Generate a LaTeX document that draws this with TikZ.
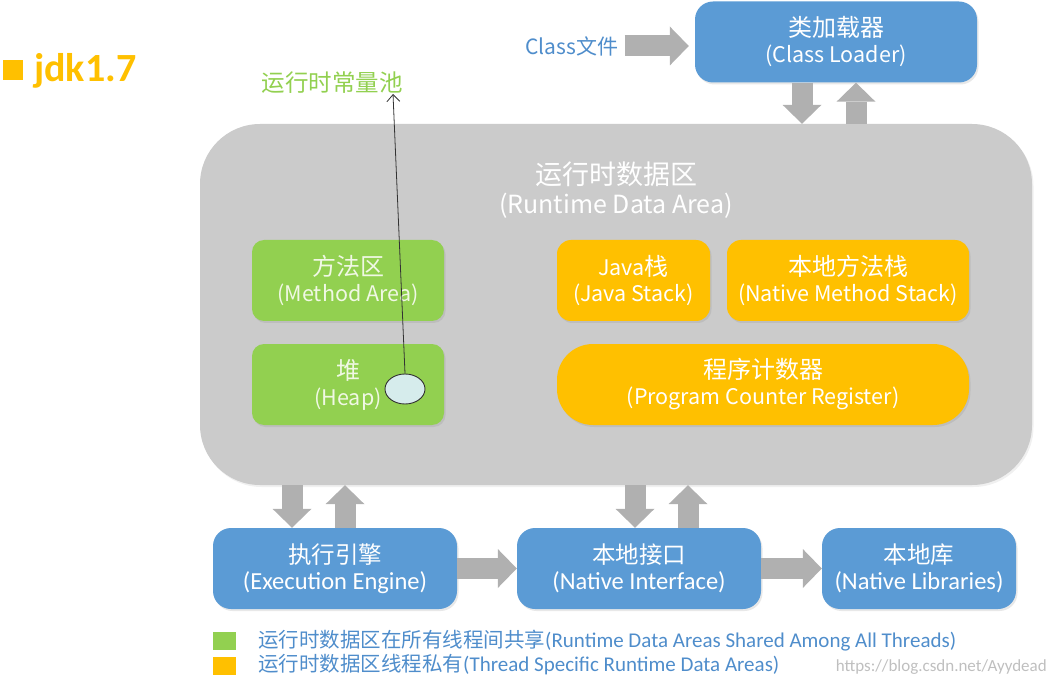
\documentclass[tikz,border=0pt]{standalone}
\usepackage{fontspec}
\setmainfont{Noto Sans CJK SC}
\newfontfamily\cjk{Noto Sans CJK SC}
\newfontfamily\lat{Carlito}
\usetikzlibrary{arrows.meta,shapes.geometric,shadows}
\definecolor{boxblue}{HTML}{5B9BD5}
\definecolor{boxgreen}{HTML}{92D050}
\definecolor{boxorange}{HTML}{FFC000}
\definecolor{areagray}{HTML}{CBCBCB}
\definecolor{arrowgray}{HTML}{B0B0B0}
\definecolor{textblue}{HTML}{4F8DCB}
\definecolor{poolfill}{HTML}{D6ECEC}
\definecolor{greentext}{HTML}{F0F8E4}
\newcommand{\cjkbig}{\fontsize{24}{26}\selectfont}
\newcommand{\latmid}{\fontsize{21.5}{26}\selectfont}
\tikzset{
  boxbase/.style={align=center, inner sep=0pt, text=white,
    drop shadow={shadow xshift=1.5pt, shadow yshift=-2pt, opacity=0.18}},
  bluebox/.style={boxbase, fill=boxblue, rounded corners=18pt,
    minimum width=#1, minimum height=81pt},
  greenbox/.style={boxbase, fill=boxgreen, rounded corners=12pt, text=greentext,
    minimum width=#1, minimum height=81pt},
  orangebox/.style={boxbase, fill=boxorange, rounded corners=14pt,
    minimum width=#1, minimum height=81pt},
  blockarrow/.style={draw=arrowgray, line width=21pt,
    -{Triangle[length=19pt,width=39pt,line width=0pt]}},
  boxfont/.style={font=\fontsize{22}{26}\selectfont},
  legendtext/.style={anchor=west, text=textblue, inner sep=0pt, font=\fontsize{20.5}{22}\selectfont},
}
\begin{document}
\begin{tikzpicture}[x=1pt,y=-1pt]
\useasboundingbox (0,0) rectangle (1053,687);

% jdk1.7 label
\node[fill=boxorange, minimum size=20pt, inner sep=0pt] (sq) at (12.5,70) {};
\node[anchor=west, text=boxorange, inner sep=0pt, font=\lat\bfseries\fontsize{40}{44}\selectfont] (jdk) at (34,71) {jdk1.7};

% class loader
\node[bluebox=282pt, boxfont] (cl) at (836,42) {{\cjkbig 类加载器}\\{\latmid (Class Loader)}};
\node[text=textblue, inner sep=0pt, font=\fontsize{21}{24}\selectfont] (cf) at (572,46) {Class文件};

% runtime data area
\node[fill=areagray, rounded corners=60pt, minimum width=832pt, minimum height=361pt, inner sep=0pt,
  drop shadow={shadow xshift=1.5pt, shadow yshift=-2pt, opacity=0.12}] (rda) at (616,304.5) {};
\node[text=white, align=center, font=\fontsize{25}{29}\selectfont] (rdat) at (616,190) {{\fontsize{27}{29}\selectfont 运行时数据区}\\(Runtime Data Area)};

\node[greenbox=192pt, boxfont] (ma) at (348,280.5) {{\cjkbig 方法区}\\{\latmid (Method Area)}};
\node[greenbox=192pt, boxfont] (heap) at (348,384.5) {{\cjkbig 堆}\\{\latmid (Heap)}};
\node[orangebox=153pt, boxfont] (js) at (633.5,280.5) {{\latmid Java}{\cjkbig 栈}\\{\latmid (Java Stack)}};
\node[orangebox=242pt, boxfont] (nms) at (848,280.5) {{\cjkbig 本地方法栈}\\{\latmid (Native Method Stack)}};
\node[orangebox=412pt, boxfont, rounded corners=36pt] (pcr) at (763,384.5) {{\cjkbig 程序计数器}\\{\latmid (Program Counter Register)}};

% constant pool
\node[ellipse, draw=black!80, line width=0.9pt, fill=poolfill, minimum width=40pt, minimum height=30pt, inner sep=0pt] (pe) at (405,389) {};
\node[text=boxgreen, inner sep=0pt, font=\fontsize{23.5}{26}\selectfont] (pool) at (332,83) {运行时常量池};
\coordinate (pooltip) at (393,94);
\draw[black!80, line width=0.8pt, -{Straight Barb[length=7pt,width=13pt]}] (pe.north) -- (pooltip);

% bottom boxes
\node[bluebox=244pt, font=\fontsize{23.5}{26}\selectfont] (ee) at (335,568.5) {执行引擎\\{\lat\fontsize{24.5}{26}\selectfont (Execution Engine)}};
\node[bluebox=244pt, font=\fontsize{23.5}{26}\selectfont] (ni) at (639,568.5) {本地接口\\{\lat\fontsize{24.5}{26}\selectfont (Native Interface)}};
\node[bluebox=194pt, font=\fontsize{23.5}{26}\selectfont] (nl) at (919,568.5) {本地库\\{\lat\fontsize{24.5}{26}\selectfont (Native Libraries)}};

% arrow x positions
\coordinate (a1) at (802,0);
\coordinate (a2) at (856,0);
\coordinate (b1) at (292,0);
\coordinate (b2) at (345,0);
\coordinate (c1) at (635,0);
\coordinate (c2) at (688,0);

\draw[blockarrow] (cf.east) ++(6,0) coordinate (cfs) (cfs) -- ([xshift=-6pt]cl.west |- cf.east);
\draw[blockarrow] (cl.south -| a1) -- (rda.north -| a1);
\draw[blockarrow] (rda.north -| a2) -- (cl.south -| a2);
\draw[blockarrow] (rda.south -| b1) -- (ee.north -| b1);
\draw[blockarrow] (ee.north -| b2) -- (rda.south -| b2);
\draw[blockarrow] (rda.south -| c1) -- (ni.north -| c1);
\draw[blockarrow] (ni.north -| c2) -- (rda.south -| c2);
\draw[blockarrow] (ee.east) -- (ni.west);
\draw[blockarrow] (ni.east) -- (nl.west);

% legend
\node[fill=boxgreen, minimum width=23pt, minimum height=18pt, inner sep=0pt] (lg1) at (224.5,641) {};
\node[fill=boxorange, minimum width=23pt, minimum height=18pt, inner sep=0pt] (lg2) at (224.5,666) {};
\node[legendtext] (lt1) at (258,641) {运行时数据区在所有线程间共享{\lat\fontsize{21}{22}\selectfont(Runtime Data Areas Shared Among All Threads)}};
\node[legendtext] (lt2) at (258,665) {运行时数据区线程私有{\lat\fontsize{21}{22}\selectfont(Thread Specific Runtime Data Areas)}};
\node[anchor=east, text=black!25, inner sep=0pt, font=\lat\fontsize{17}{18}\selectfont] (wm) at (1047,667) {https://blog.csdn.net/Ayydead};
\end{tikzpicture}
\end{document}
